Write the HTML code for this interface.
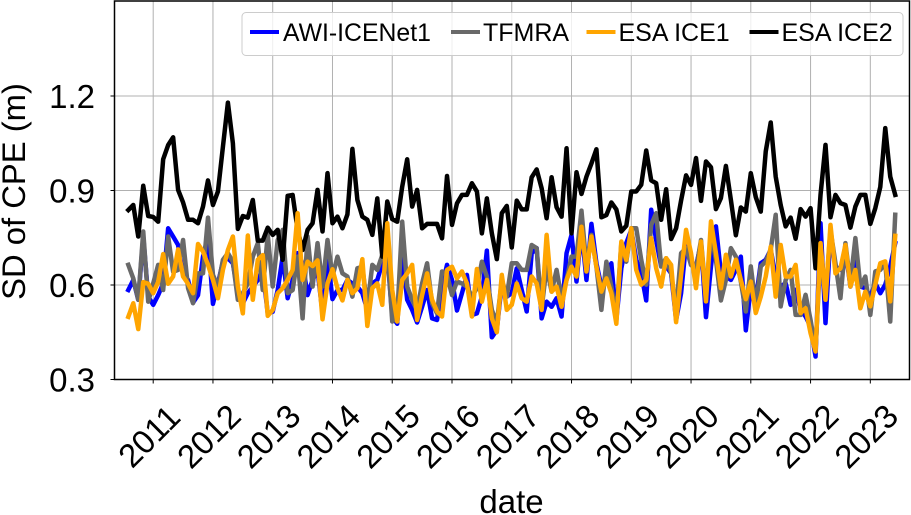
<!DOCTYPE html>
<html>
<head>
<meta charset="utf-8">
<title>SD of CPE chart</title>
<style>
html,body{margin:0;padding:0;background:#fff;width:911px;height:515px;overflow:hidden}
svg{position:absolute;left:0;top:0;display:block}
text{font-family:"Liberation Sans",sans-serif;fill:#000}
</style>
</head>
<body>
<svg id="chart" xmlns="http://www.w3.org/2000/svg" width="911" height="515" viewBox="0 0 911 515">
<rect x="0" y="0" width="911" height="515" fill="#fff"/>
<g id="grid"></g>
<g id="series"></g>
<g id="axes"></g>
<text transform="translate(25,191.5) rotate(-90)" text-anchor="middle" font-size="32.8">SD of CPE (m)</text>
<text x="511.5" y="513" text-anchor="middle" font-size="33">date</text>
<g>
<rect x="242" y="12.5" width="661" height="43" rx="4" fill="#fff" fill-opacity="0.8" stroke="#ccc" stroke-width="1"/>
<g>
<line x1="250" x2="279" y1="32" y2="32" stroke="#0000ff" stroke-width="4"/>
<text x="283" y="41" font-size="24.8">AWI-ICENet1</text>
</g>
<g>
<line x1="451" x2="480" y1="32" y2="32" stroke="#696969" stroke-width="4"/>
<text x="483" y="41" font-size="25">TFMRA</text>
</g>
<g>
<line x1="586.5" x2="615.5" y1="32" y2="32" stroke="#ffa500" stroke-width="4"/>
<text x="618.5" y="41" font-size="25">ESA ICE1</text>
</g>
<g>
<line x1="749.5" x2="778.5" y1="32" y2="32" stroke="#000" stroke-width="4"/>
<text x="781.5" y="41" font-size="25">ESA ICE2</text>
</g>
</g>
</svg>
<script>
const startYear = 2010;
const startMonth = 7; // zero-based: August
const yearTicks = [2011,2012,2013,2014,2015,2016,2017,2018,2019,2020,2021,2022,2023];
const valueTicks = [0.3,0.6,0.9,1.2];
const valueTickLabels = ["0.3","0.6","0.9","1.2"];
const awiIcenet1 = [.584,.616,.553,.754,.563,.537,.568,.605,.780,.754,.727,.632,.616,.544,.568,.690,.754,.540,.605,.674,.685,.669,.574,.542,.574,.595,.616,.648,.510,.515,.584,.690,.558,.616,.701,.669,.568,.616,.648,.510,.690,.555,.584,.584,.616,.605,.595,.574,.521,.605,.616,
.669,.701,.500,.477,.701,.553,.521,.481,.531,.584,.494,.489,.595,.664,.616,.519,.574,.632,.505,.510,.563,.709,.434,.457,.605,.563,.574,.653,.584,.516,.701,.717,.494,.547,.531,.558,.500,.701,.759,.611,.775,.616,.794,.669,.595,.627,.669,.489,.653,.733,.775,.680,
.637,.551,.839,.743,.659,.659,.637,.489,.574,.733,.664,.659,.733,.498,.659,.786,.637,.627,.616,.648,.690,.456,.595,.553,.669,.680,.712,.627,.595,.606,.537,.585,.521,.500,.468,.373,.796,.479,.765,.659,.648,.712,.595,.680,.595,.590,.563,.606,.574,.601,.659,.733];
const tfmra = [.664,.621,.553,.770,.547,.605,.664,.584,.754,.642,.648,.743,.590,.542,.637,.637,.814,.632,.595,.680,.701,.674,.553,.574,.605,.690,.733,.584,.759,.595,.743,.775,.574,.584,.690,.494,.754,.595,.733,.595,.743,.627,.690,.637,.627,.563,.653,.658,.531,.664,.648,
.695,.722,.484,.500,.801,.595,.553,.521,.605,.669,.542,.510,.643,.632,.568,.611,.605,.595,.563,.590,.674,.627,.521,.479,.616,.563,.669,.669,.648,.648,.727,.717,.526,.658,.579,.648,.558,.616,.690,.690,.836,.658,.759,.658,.521,.674,.595,.500,.733,.674,.780,.780,
.680,.601,.791,.828,.659,.685,.637,.521,.701,.717,.664,.648,.743,.563,.765,.680,.551,.616,.717,.690,.611,.516,.659,.532,.659,.675,.712,.823,.532,.616,.648,.505,.505,.569,.489,.394,.701,.563,.775,.669,.558,.733,.606,.749,.595,.627,.505,.643,.648,.669,.484,.823];
const esaIce1 = [.499,.542,.460,.609,.604,.574,.610,.698,.604,.627,.713,.627,.604,.574,.730,.706,.664,.616,.558,.648,.711,.754,.595,.510,.757,.553,.680,.695,.502,.521,.574,.590,.616,.648,.828,.616,.674,.660,.678,.491,.605,.650,.590,.551,.616,.574,.590,.682,.470,.590,.605,
.537,.796,.584,.484,.616,.637,.664,.489,.568,.637,.553,.516,.500,.648,.658,.621,.643,.605,.500,.651,.547,.616,.494,.450,.632,.521,.537,.605,.558,.547,.627,.605,.521,.759,.579,.595,.531,.616,.658,.627,.785,.643,.754,.658,.579,.621,.574,.477,.738,.680,.780,.648,
.601,.616,.749,.653,.595,.685,.664,.482,.632,.775,.701,.590,.738,.548,.802,.701,.590,.696,.627,.680,.616,.555,.611,.511,.563,.627,.722,.563,.727,.627,.627,.664,.511,.526,.447,.389,.733,.553,.791,.637,.653,.727,.595,.648,.526,.579,.532,.601,.669,.675,.548,.756];
const esaIce2 = [.838,.854,.754,.915,.819,.816,.801,.999,1.044,1.069,.902,.862,.807,.807,.796,.849,.932,.854,.897,1.039,1.179,1.050,.778,.819,.814,.870,.741,.741,.782,.759,.775,.680,.883,.886,.775,.711,.775,.796,.902,.770,.955,.796,.817,.780,.824,1.032,.870,.817,.807,.759,.875,
.690,.865,.809,.801,.912,.999,.849,.902,.780,.794,.794,.794,.748,.946,.791,.859,.886,.886,.923,.897,.764,.875,.764,.682,.828,.851,.719,.868,.840,.840,.942,.967,.907,.812,.942,.847,.817,1.034,.764,.958,.889,.944,.986,1.031,.815,.822,.862,.840,.770,.788,.897,.897,
.918,1.027,.932,.923,.807,.904,.746,.780,.868,.948,.918,1.003,.867,.992,.974,.841,.876,.978,.870,.758,.846,.833,.955,.879,.833,1.024,1.116,.944,.854,.786,.814,.747,.841,.817,.844,.653,.886,1.045,.815,.886,.860,.854,.782,.849,.886,.886,.794,.844,.911,1.098,.944,.886];

const NS = 'http://www.w3.org/2000/svg';
const plot = {left:114.5, right:909.5, top:1, bottom:379.5};
const xOfYear = function (y) { return 153.2 + (y - 2011) * 59.76; };
const xOfIndex = function (i) { return xOfYear(startYear + (startMonth + i) / 12); };
const yOfValue = function (v) { return 379.5 - (v - 0.3) * 315; };
const gridG = document.getElementById('grid');
const seriesG = document.getElementById('series');
const axesG = document.getElementById('axes');
function make(tag, attrs, parent) {
  const el = document.createElementNS(NS, tag);
  for (const k in attrs) el.setAttribute(k, attrs[k]);
  parent.appendChild(el);
  return el;
}
yearTicks.forEach(function (yr) {
  const x = xOfYear(yr);
  const g = make('line', {x1:x, x2:x, y1:plot.top, y2:plot.bottom, stroke:'#b0b0b0', 'stroke-width':1}, gridG);
  
  
  const t = make('line', {x1:x, x2:x, y1:plot.bottom, y2:plot.bottom + 4, stroke:'#000', 'stroke-width':1}, axesG);
  
  
  const cx = x - 4.3;
  const cy = 436;
  const l = make('text', {x:cx, y:cy + 11.7, 'text-anchor':'middle', 'font-size':33, transform:'rotate(-45 ' + cx + ' ' + cy + ')'}, axesG);
  
  
  l.textContent = String(yr);
});
valueTicks.forEach(function (v, idx) {
  const y = yOfValue(v);
  const g = make('line', {x1:plot.left, x2:plot.right, y1:y, y2:y, stroke:'#b0b0b0', 'stroke-width':1}, gridG);
  
  
  const t = make('line', {x1:plot.left - 4, x2:plot.left, y1:y, y2:y, stroke:'#000', 'stroke-width':1}, axesG);
  
  
  const l = make('text', {x:95, y:y + 11.8, 'text-anchor':'end', 'font-size':33}, axesG);
  
  
  l.textContent = valueTickLabels[idx];
});
function drawSeries(values, color, name) {
  const pts = values.map(function (v, i) { return xOfIndex(i).toFixed(2) + ',' + yOfValue(v).toFixed(2); }).join(' ');
  const p = make('polyline', {points:pts, fill:'none', stroke:color, 'stroke-width':4.5, 'stroke-linejoin':'round', 'stroke-linecap':'square'}, seriesG);
  
  
}
drawSeries(awiIcenet1, '#0000ff', 'line-awi-icenet1');
drawSeries(tfmra, '#696969', 'line-tfmra');
drawSeries(esaIce2, '#000000', 'line-esa-ice2');
drawSeries(esaIce1, '#ffa500', 'line-esa-ice1');
const frame = make('rect', {x:plot.left, y:plot.top, width:plot.right - plot.left, height:plot.bottom - plot.top, fill:'none', stroke:'#000', 'stroke-width':1.5}, axesG);


</script>
</body>
</html>
